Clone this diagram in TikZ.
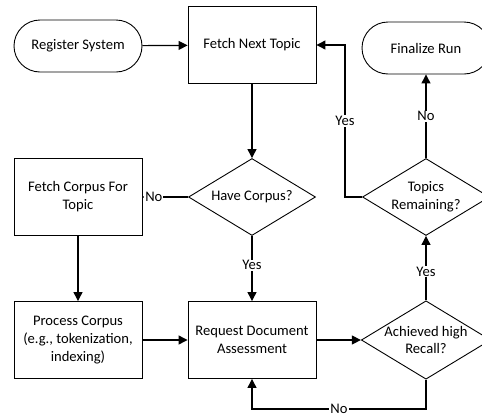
\documentclass[tikz,border=0pt]{standalone}
\usepackage{fontspec}
\setmainfont{Carlito}
\usetikzlibrary{shapes.geometric,arrows.meta}
\begin{document}
\begin{tikzpicture}[x=1pt,y=-1pt,
  font=\fontsize{14.6}{17.8}\selectfont,
  every path/.style={line width=1.2pt},
  proc/.style={draw,line width=0.9pt,minimum width=128pt,minimum height=77pt,align=center,inner sep=2pt},
  term/.style={draw,line width=0.9pt,rounded corners=26pt,minimum width=128pt,minimum height=52pt,align=center},
  dec/.style={draw,diamond,line width=0.9pt,minimum width=127pt,minimum height=77pt,aspect=1.65,inner sep=0pt,align=center},
  arr/.style={-{Triangle[length=9pt,width=9pt]}},
  lbl/.style={fill=white,inner sep=1pt}]
\useasboundingbox (0,0) rectangle (482,418);
\node[term] (reg) at (78,46) {Register System};
\node[proc] (fnt) at (252,45) {Fetch Next Topic};
\node[term] (fin) at (426,48) {Finalize Run};
\node[dec] (hc) at (252,197) {Have Corpus?};
\node[dec] (tr) at (426,197) {Topics\\Remaining?};
\node[proc] (fc) at (78,197) {Fetch Corpus For\\Topic};
\node[proc] (pc) at (78,340) {Process Corpus\\(e.g., tokenization,\\indexing)};
\node[proc] (rd) at (252,340) {Request Document\\Assessment};
\node[dec] (ah) at (426,340) {Achieved high\\Recall?};
\coordinate (c1) at (345,197);
\coordinate (c2) at (345,45);
\coordinate (c3) at (426,409);
\coordinate (c4) at (252,409);
\draw[arr] (reg) -- (fnt);
\draw[arr] (fnt) -- (hc);
\draw[arr] (hc) -- node[lbl,pos=0.75]{No} (fc);
\draw[arr] (hc) -- node[lbl,pos=0.45]{Yes} (rd);
\draw[arr] (fc) -- (pc);
\draw[arr] (pc) -- (rd);
\draw[arr] (rd) -- (ah);
\draw[arr] (ah) -- node[lbl,pos=0.45]{Yes} (tr);
\draw[arr] (tr) -- node[lbl,pos=0.5]{No} (fin);
\draw[arr] (tr.west) -- (c1) -- node[lbl,pos=0.5]{Yes} (c2) -- (fnt.east);
\draw[arr] (ah.south) -- (c3) -- node[lbl,pos=0.5]{No} (c4) -- (rd.south);
\end{tikzpicture}
\end{document}
